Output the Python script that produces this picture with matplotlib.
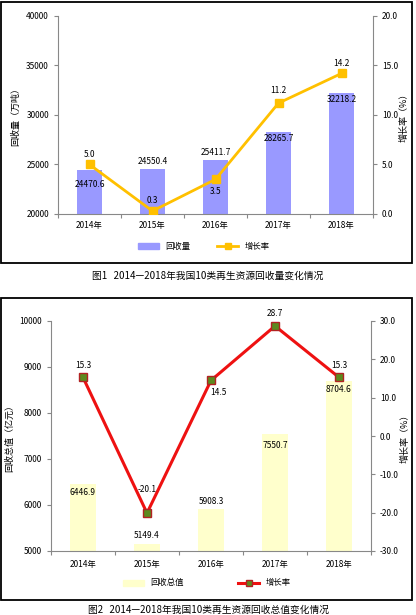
import numpy as np
import matplotlib
matplotlib.use('Agg')
import matplotlib.pyplot as plt
from matplotlib.patches import Rectangle
from matplotlib.lines import Line2D
from matplotlib.patches import Patch

plt.rcParams['font.family'] = ['Noto Sans CJK SC', 'DejaVu Sans']

years = ['2014年', '2015年', '2016年', '2017年', '2018年']

# figure 1: recovery volume (10k tonnes) and growth (%)
volume = [24470.6, 24550.4, 25411.7, 28265.7, 32218.2]
volume_growth = [5.0, 0.3, 3.5, 11.2, 14.2]

# figure 2: recovery value (100M yuan) and growth (%)
value = [6446.9, 5149.4, 5908.3, 7550.7, 8704.6]
value_growth = [15.3, -20.1, 14.5, 28.7, 15.3]

W, H = 416, 615
fig = plt.figure(figsize=(W / 100, H / 100), dpi=100)

def px_axes(l, t, r, b):
    return fig.add_axes([l / W, 1 - b / H, (r - l) / W, (b - t) / H])

def style(ax, side):
    for s in ['top', 'left', 'right', 'bottom']:
        ax.spines[s].set_visible(False)
    ax.spines[side].set_visible(True)
    ax.spines[side].set_color('#888888')
    ax.spines[side].set_linewidth(0.8)
    ax.tick_params(axis='y', colors='#888888', labelcolor='black', labelsize=6, length=3, width=0.8)

def box(t, b):
    fig.patches.append(Rectangle((1 / W, 1 - b / H), 411 / W, (b - t) / H, transform=fig.transFigure,
                                 fill=False, edgecolor='black', linewidth=1.3))

x = np.arange(len(years))

# ---------- chart 1 ----------
ax1 = px_axes(58, 16, 373, 214)
ax1.bar(x, volume, width=0.4, color='#9999FF', zorder=1)
ax1.set_ylim(20000, 40000)
ax1.set_yticks([20000, 25000, 30000, 35000, 40000])
ax1.set_xlim(-0.5, 4.5)
style(ax1, 'left')
ax1.spines['bottom'].set_visible(True)
ax1.spines['bottom'].set_color('#888888')
ax1.set_xticks(np.arange(-0.5, 5, 1))
ax1.set_xticklabels([])
ax1.tick_params(axis='x', colors='#888888', length=3, width=0.8)
for i, y in enumerate(years):
    ax1.text(i, -0.06, y, transform=ax1.get_xaxis_transform(), ha='center', va='center', fontsize=6)
ax1.set_ylabel('回收量（万吨）', fontsize=6.5, labelpad=4)

ax1b = ax1.twinx()
ax1b.plot(x, volume_growth, color='#FFC000', linewidth=2, marker='s', markersize=6, zorder=3)
ax1b.set_ylim(0, 20)
ax1b.set_yticks([0, 5, 10, 15, 20])
ax1b.set_yticklabels(['0.0', '5.0', '10.0', '15.0', '20.0'])
style(ax1b, 'right')
ax1b.set_ylabel('增长率（%）', fontsize=6.5, labelpad=1)

vol_off = [(-1000, 'top'), (300, 'bottom'), (300, 'bottom'), (-200, 'top'), (-200, 'top')]
for i, v in enumerate(volume):
    d, va = vol_off[i]
    ax1.text(i, v + d, f'{v:.1f}', ha='center', va=va, fontsize=6)
g_off = [(0.6, 'bottom'), (0.6, 'bottom'), (-0.8, 'top'), (0.8, 'bottom'), (0.5, 'bottom')]
for i, g in enumerate(volume_growth):
    d, va = g_off[i]
    ax1b.text(i, g + d, f'{g:.1f}', ha='center', va=va, fontsize=6)

h1 = [Patch(color='#9999FF'),
      Line2D([], [], color='#FFC000', linewidth=2, marker='s', markersize=5)]
fig.legend(h1, ['回收量', '增长率'], loc='center', bbox_to_anchor=(204 / W, 1 - 246 / H),
           ncol=2, frameon=False, fontsize=6, columnspacing=3.2, handlelength=2.5)
box(2, 263)
fig.text(208 / W, 1 - 276 / H, '图1   2014—2018年我国10类再生资源回收量变化情况',
         ha='center', va='center', fontsize=7)

# ---------- chart 2 ----------
ax2 = px_axes(51, 321, 371, 551)
ax2.bar(x, value, width=0.4, color='#FFFFCC', zorder=1)
ax2.set_ylim(5000, 10000)
ax2.set_yticks([5000, 6000, 7000, 8000, 9000, 10000])
ax2.set_xlim(-0.5, 4.5)
style(ax2, 'left')
ax2.spines['bottom'].set_visible(True)
ax2.spines['bottom'].set_color('#888888')
ax2.set_xticks(np.arange(-0.5, 5, 1))
ax2.set_xticklabels([])
ax2.tick_params(axis='x', colors='#888888', length=3, width=0.8)
for i, y in enumerate(years):
    ax2.text(i, -0.06, y, transform=ax2.get_xaxis_transform(), ha='center', va='center', fontsize=6)
ax2.set_ylabel('回收总值（亿元）', fontsize=6.5, labelpad=4)

ax2b = ax2.twinx()
ax2b.plot(x, value_growth, color='#EE1111', linewidth=2.2, marker='s', markersize=6,
          markerfacecolor='#5C8A1E', markeredgecolor='#B22222', markeredgewidth=1, zorder=3)
ax2b.set_ylim(-30, 30)
ax2b.set_yticks([-30, -20, -10, 0, 10, 20, 30])
ax2b.set_yticklabels(['-30.0', '-20.0', '-10.0', '0.0', '10.0', '20.0', '30.0'])
style(ax2b, 'right')
ax2b.set_ylabel('增长率（%）', fontsize=6.5, labelpad=1)

val_off = [(-70, 'top'), (80, 'bottom'), (80, 'bottom'), (-170, 'top'), (-100, 'top')]
for i, v in enumerate(value):
    d, va = val_off[i]
    ax2.text(i, v + d, f'{v:.1f}', ha='center', va=va, fontsize=6)
vg_off = [(2, 'bottom', 0), (5, 'bottom', 0), (-2, 'top', 0.12), (2, 'bottom', 0), (2, 'bottom', 0)]
for i, g in enumerate(value_growth):
    d, va, dx = vg_off[i]
    ax2b.text(i + dx, g + d, f'{g:.1f}', ha='center', va=va, fontsize=6)

h2 = [Patch(color='#FFFFCC'),
      Line2D([], [], color='#EE1111', linewidth=2.2, marker='s', markersize=5,
             markerfacecolor='#5C8A1E', markeredgecolor='#B22222')]
fig.legend(h2, ['回收总值', '增长率'], loc='center', bbox_to_anchor=(207 / W, 1 - 583 / H),
           ncol=2, frameon=False, fontsize=6, columnspacing=6.5, handlelength=2.5)
box(298, 600)
fig.text(208 / W, 1 - 610 / H, '图2   2014—2018年我国10类再生资源回收总值变化情况',
         ha='center', va='center', fontsize=7)

fig.savefig('out.png', dpi=100)
